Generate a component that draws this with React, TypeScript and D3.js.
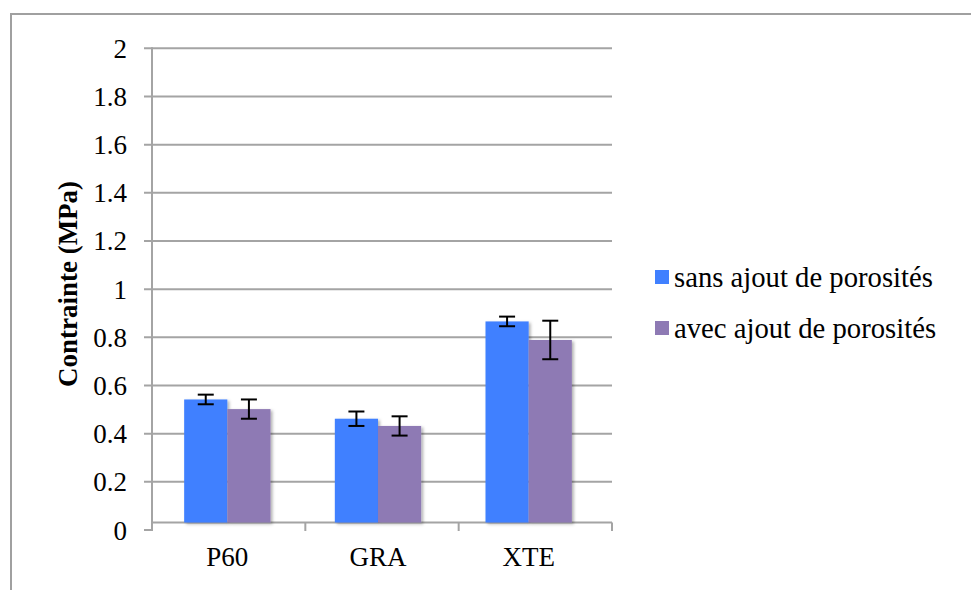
import React from "react";
import * as d3 from "d3";

const categories = ["P60", "GRA", "XTE"];
const seriesNames = ["sans ajout de porosités", "avec ajout de porosités"];
const sansValues = [0.542, 0.462, 0.866];
const avecValues = [0.502, 0.432, 0.789];
const sansErrors = [0.02, 0.03, 0.02];
const avecErrors = [0.04, 0.04, 0.08];
const yTicks = [0, 0.2, 0.4, 0.6, 0.8, 1, 1.2, 1.4, 1.6, 1.8, 2];
const colors = ["#4080FF", "#8E7AB4"];

const W = 971;
const H = 590;
const FONT = "Liberation Serif, DejaVu Serif, serif";

export default function App() {
  const plotLeft = 152;
  const plotRight = 612;
  const floorY = 522.5;
  const depth = 8;
  const y = d3.scaleLinear().domain([0, 2]).range([530, 48.3]);
  const xAxis = d3.scaleBand<string>().domain(categories).range([plotLeft, plotRight]).padding(0);
  const x0 = d3
    .scaleBand<string>()
    .domain(categories)
    .range([plotLeft, plotRight - depth])
    .padding(0);
  const x1 = d3
    .scaleBand<number>()
    .domain([0, 1])
    .range([0, x0.step()])
    .paddingInner(0)
    .paddingOuter(0.745);
  const values = [sansValues, avecValues];
  const errors = [sansErrors, avecErrors];
  const grid = "#A4A4A4";
  const capHalf = 8;
  const txt = { fontFamily: FONT } as React.CSSProperties;

  return (
    <svg
      width={W}
      height={H}
      style={{ position: "absolute", left: 0, top: 0, background: "#fff", fontFamily: FONT }}
    >
      <defs>
        <filter id="shadow" x="-20%" y="-20%" width="150%" height="150%">
          <feDropShadow dx="2" dy="1.5" stdDeviation="1.5" floodColor="#000" floodOpacity="0.3" />
        </filter>
      </defs>
      <rect x={0} y={0} width={W} height={H} fill="#fff" />
      <path d={`M11,${H + 2} L11,14 L${W + 2},14`} fill="none" stroke="#A0A0A0" strokeWidth={2} />

      {yTicks.map((t) => (
        <line
          key={"g" + t}
          x1={144}
          x2={t === 0 ? plotLeft : plotRight}
          y1={y(t)}
          y2={y(t)}
          stroke={grid}
          strokeWidth={2}
        />
      ))}
      <line x1={plotLeft} x2={plotLeft} y1={y(2) - 1} y2={y(0) + 1} stroke={grid} strokeWidth={2} />
      <line x1={plotLeft} x2={plotRight} y1={floorY} y2={floorY} stroke={grid} strokeWidth={2} />
      {categories.map((c, i) => (
        <line
          key={"xt" + i}
          x1={xAxis(c)!}
          x2={xAxis(c)!}
          y1={floorY}
          y2={531}
          stroke={grid}
          strokeWidth={2}
        />
      ))}
      <line x1={plotRight} x2={plotRight} y1={floorY} y2={531} stroke={grid} strokeWidth={2} />

      {yTicks.map((t) => (
        <text key={"yl" + t} x={127} y={y(t) + 9.5} textAnchor="end" fontSize={27} fill="#000" style={txt}>
          {String(t)}
        </text>
      ))}

      {categories.map((c, i) =>
        values.map((vals, s) => {
          const bx = x0(c)! + x1(s)!;
          const top = y(vals[i]);
          return (
            <rect
              key={"b" + i + "-" + s}
              x={bx}
              y={top}
              width={x1.bandwidth()}
              height={floorY - top}
              fill={colors[s]}
              filter="url(#shadow)"
            />
          );
        })
      )}

      {categories.map((c, i) =>
        values.map((vals, s) => {
          const cx = x0(c)! + x1(s)! + x1.bandwidth() / 2;
          const hi = y(vals[i] + errors[s][i]);
          const lo = y(vals[i] - errors[s][i]);
          return (
            <g key={"e" + i + "-" + s} stroke="#000" strokeWidth={2}>
              <line x1={cx} x2={cx} y1={hi} y2={lo} />
              <line x1={cx - capHalf} x2={cx + capHalf} y1={hi} y2={hi} />
              <line x1={cx - capHalf} x2={cx + capHalf} y1={lo} y2={lo} />
            </g>
          );
        })
      )}

      {categories.map((c) => (
        <text
          key={"xl" + c}
          x={x0(c)! + x0.bandwidth() / 2}
          y={566}
          textAnchor="middle"
          fontSize={27}
          fill="#000"
          style={txt}
        >
          {c}
        </text>
      ))}

      <text
        transform="translate(77,284) rotate(-90)"
        textAnchor="middle"
        fontSize={27}
        fontWeight="bold"
        fill="#000"
        style={txt}
      >
        Contrainte (MPa)
      </text>

      {seriesNames.map((n, s) => (
        <g key={"lg" + s}>
          <rect x={655} y={270 + s * 51} width={14} height={14} fill={colors[s]} />
          <text x={674} y={286.5 + s * 51} fontSize={28.7} fill="#000" style={txt}>
            {n}
          </text>
        </g>
      ))}
    </svg>
  );
}
